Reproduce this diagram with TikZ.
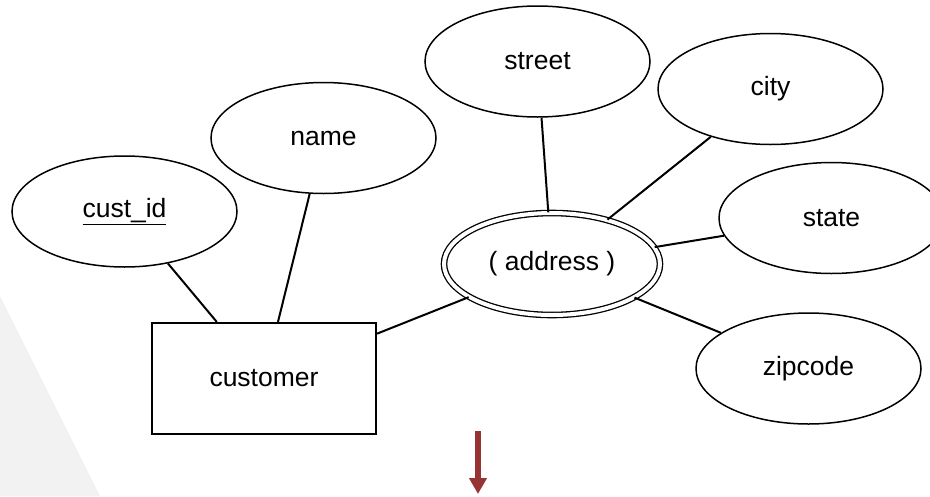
\documentclass[tikz,border=0pt]{standalone}
\usepackage{fontspec}
\setmainfont{Liberation Sans}
\usepackage{tikz}
\usetikzlibrary{shapes.geometric,arrows.meta}

\definecolor{arrowred}{RGB}{150,52,52}
\definecolor{bggrey}{RGB}{242,242,242}

\begin{document}
\begin{tikzpicture}[
    x = 1pt,
    y = -1pt,
    attr/.style={draw, ellipse, line width=1.5pt, inner sep=0pt,
        minimum width=225pt, minimum height=111pt},
    multiattr/.style={draw, ellipse, double, line width=1.3pt,
        double distance=4pt, inner sep=0pt,
        minimum width=216pt, minimum height=102pt},
    entity/.style={draw, rectangle, line width=2.2pt, inner sep=0pt,
        minimum width=224pt, minimum height=111pt},
    link/.style={line width=2pt},
    font=\fontsize{26.5}{30}\selectfont
    ]
    \useasboundingbox (0,0) rectangle (930,496);
    \fill[bggrey] (0,296) -- (100,496) -- (0,496) -- cycle;

    \node[entity] (customer) at (264,378.5) {customer};
    \node[attr] (custid) at (124.5,211.5) {\underline{cust\_id}};
    \node[attr] (name) at (323.5,138) {name};
    \node[multiattr] (address) at (552,264) {( address )};
    \node[attr] (street) at (537.5,61.5) {street};
    \node[attr] (city) at (770.5,89) {city};
    \node[attr] (state) at (831.5,218) {state};
    \node[attr] (zipcode) at (808.5,368.5) {zipcode};

    \draw[link] (custid) -- (customer);
    \draw[link] (name) -- (customer);
    \draw[link] (address) -- (customer);
    \draw[link] (street) -- (address);
    \draw[link] (city) -- (address);
    \draw[link] (state) -- (address);
    \draw[link] (zipcode) -- (address);

    \coordinate (arrowtop) at (478,431);
    \coordinate (arrowtip) at (478,494);
    \draw[arrowred, line width=6pt, -{Triangle[width=17pt,length=16pt]}]
        (arrowtop) -- (arrowtip);
\end{tikzpicture}
\end{document}
